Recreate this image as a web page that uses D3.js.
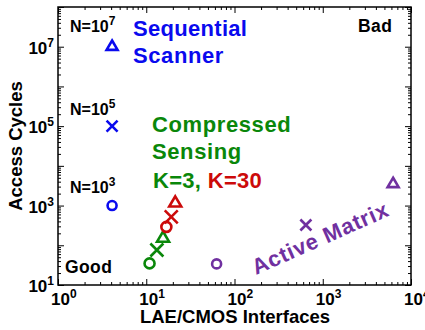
<!DOCTYPE html>
<html>
<body style="margin:0">
<meta charset="UTF-8">
<title>Access cycles vs interfaces</title>
<style>
    body {
        font-family: "Liberation Sans", Arial, sans-serif;
        font-weight: bold;
        background: white;
    }
    text {
        font-weight: bold;
    }
</style>
<div id="chart"></div>
<script src="https://d3js.org/d3.v7.min.js"></script>
<script>

    // markers: one per array size N = 1e3, 1e5, 1e7
    var markers = ["circle", "cross", "triangle"];

    var seqX = [4.1, 4.1, 4.1],
        seqY = [1e3, 1e5, 1e7];

    var csK3X = [10.9, 13.2, 15.5],
        csK3Y = [35, 76, 150];

    var csK30X = [16.9, 19.2, 21.3],
        csK30Y = [290, 520, 1150];

    var amX = [62.7, 644, 6270],
        amY = [34, 324, 3500];

    var xTicks = [1, 10, 100, 1000, 10000],
        xTickExp = ["0", "1", "2", "3", "4"];
    var yTicks = [10, 1e3, 1e5, 1e7],
        yTickExp = ["1", "3", "5", "7"];

    var width = 425,
        height = 330;

    var blue = "#0a0aee",
        green = "#0a870a",
        red = "#cc0a0a",
        purple = "#7030a0";

    var svg = d3.select("#chart")
        .append("svg")
        .attr("width", width)
        .attr("height", height);

    var x = d3.scaleLog().domain([1, 1e4]).range([58, 411]);
    var y = d3.scaleLog().domain([10, 1e8]).range([285, 7]);

    // major / minor tick values
    var xMajor = d3.range(0, 5).map(function(e) { return Math.pow(10, e); });
    var yMajor = d3.range(1, 9).map(function(e) { return Math.pow(10, e); });
    function minors(lo, hi) {
        var out = [];
        for (var e = lo; e < hi; e++)
            for (var k = 2; k <= 9; k++) out.push(k * Math.pow(10, e));
        return out;
    }
    var xMinor = minors(0, 4), yMinor = minors(1, 8);

    var axes = [
        [d3.axisBottom, x, "translate(0,285)", xMajor, xMinor],
        [d3.axisTop, x, "translate(0,7)", xMajor, xMinor],
        [d3.axisLeft, y, "translate(58,0)", yMajor, yMinor],
        [d3.axisRight, y, "translate(411,0)", yMajor, yMinor]
    ];
    axes.forEach(function(a) {
        [[a[3], -6], [a[4], -3]].forEach(function(t) {
            var g = svg.append("g")
                .attr("transform", a[2])
                .call(a[0](a[1]).tickValues(t[0]).tickSize(t[1]).tickFormat(""));
            g.select(".domain").remove();
            g.selectAll("line").attr("stroke", "#000").attr("stroke-width", 1);
        });
    });

    svg.append("rect")
        .attr("x", 58).attr("y", 7)
        .attr("width", 411 - 58).attr("height", 285 - 7)
        .attr("fill", "none")
        .attr("stroke", "#000")
        .attr("stroke-width", 1.5);

    // tick labels 10^n
    function powLabel(sel, base, exp, baseSize, supSize, dy) {
        sel.append("tspan").text(base).style("font-size", baseSize + "px");
        sel.append("tspan").text(exp)
            .attr("dy", -dy)
            .style("font-size", supSize + "px");
    }

    xTicks.forEach(function(v, i) {
        var t = svg.append("text")
            .attr("x", x(v) - 7)
            .attr("y", 305)
            .attr("fill", "#000");
        powLabel(t, "10", xTickExp[i], 17, 12, 7);
    });

    yTicks.forEach(function(v, i) {
        var t = svg.append("text")
            .attr("x", 54)
            .attr("y", y(v) + 7)
            .attr("text-anchor", "end")
            .attr("fill", "#000");
        powLabel(t, "10", yTickExp[i], 17, 12, 7);
    });

    svg.append("text")
        .attr("x", 235)
        .attr("y", 323)
        .attr("text-anchor", "middle")
        .style("font-size", "18.5px")
        .text("LAE/CMOS Interfaces");

    svg.append("text")
        .attr("transform", "translate(22,146) rotate(-90)")
        .attr("text-anchor", "middle")
        .style("font-size", "18.5px")
        .text("Access Cycles");

    // markers
    function markerPath(type, s) {
        if (type === "circle") {
            return "M" + s + ",0A" + s + "," + s + " 0 1,1 " + (-s) + ",0A" + s + "," + s + " 0 1,1 " + s + ",0Z";
        }
        if (type === "cross") {
            return "M" + (-s) + "," + (-s) + "L" + s + "," + s + "M" + (-s) + "," + s + "L" + s + "," + (-s);
        }
        var h = s * 1.7;
        return "M0," + (-h * 2 / 3) + "L" + s + "," + (h / 3) + "L" + (-s) + "," + (h / 3) + "Z";
    }

    var series = [
        { xs: seqX, ys: seqY, color: blue, size: [4.5, 5.5, 5.5] },
        { xs: csK3X, ys: csK3Y, color: green, size: [5, 6.5, 6] },
        { xs: csK30X, ys: csK30Y, color: red, size: [5, 6.5, 6] },
        { xs: amX, ys: amY, color: purple, size: [4.5, 5.5, 5.5] }
    ];

    series.forEach(function(s) {
        svg.append("g").selectAll("path")
            .data(markers)
            .enter().append("path")
            .attr("transform", function(d, i) { return "translate(" + x(s.xs[i]) + "," + y(s.ys[i]) + ")"; })
            .attr("d", function(d, i) { return markerPath(d, s.size[i]); })
            .attr("fill", "none")
            .attr("stroke", s.color)
            .attr("stroke-width", 2.6);
    });

    // annotations
    function label(tx, ty, str, color, size, ls) {
        return svg.append("text")
            .attr("x", tx).attr("y", ty)
            .attr("fill", color)
            .style("font-size", size + "px")
            .style("letter-spacing", (ls || 0) + "px")
            .text(str);
    }

    [["7", 32], ["5", 115], ["3", 193]].forEach(function(n) {
        var t = svg.append("text").attr("x", 70).attr("y", n[1]).attr("fill", "#000");
        powLabel(t, "N=10", n[0], 16, 12, 7);
    });

    label(133, 36, "Sequential", blue, 22, 0.3);
    label(133, 63, "Scanner", blue, 22, 0.6);
    label(152, 132, "Compressed", green, 22, 0.6);
    label(152, 159, "Sensing", green, 22, 0.6);

    var k = svg.append("text").attr("x", 153).attr("y", 188)
        .style("font-size", "22px").style("letter-spacing", "0.3px");
    k.append("tspan").attr("fill", green).text("K=3, ");
    k.append("tspan").attr("fill", red).text("K=30");

    label(358, 32, "Bad", "#000", 17.5, 0.4);
    label(65, 273, "Good", "#000", 17.5, 0.4);

    svg.append("text")
        .attr("transform", "translate(256,275) rotate(-24)")
        .attr("fill", purple)
        .style("font-size", "22px")
        .style("letter-spacing", "0.8px")
        .text("Active Matrix");

</script>
</body>
</html>
